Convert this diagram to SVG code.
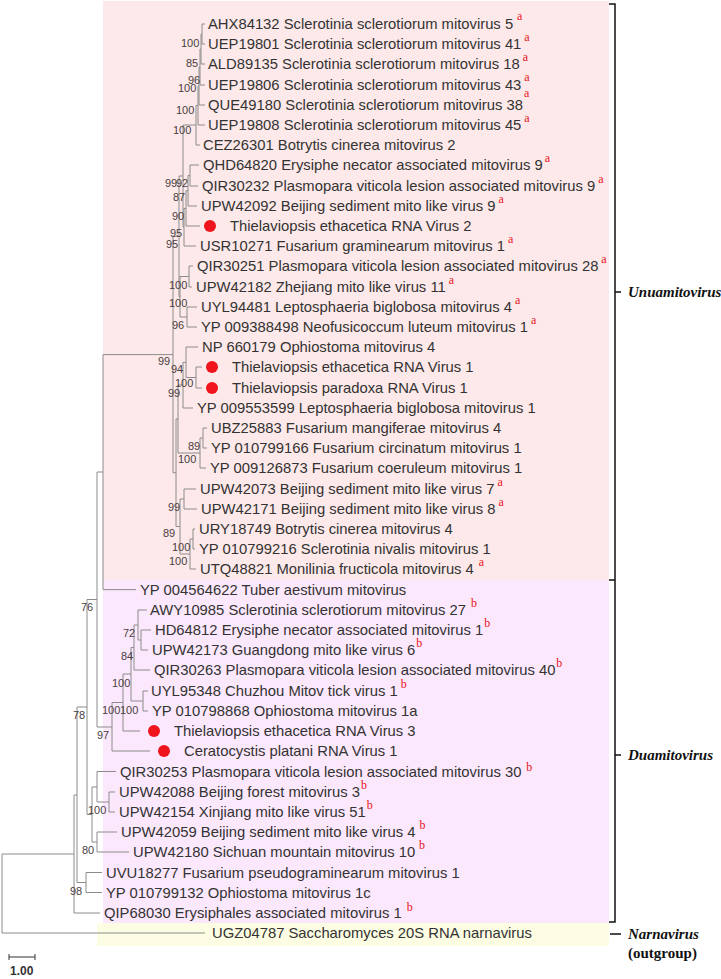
<svg xmlns="http://www.w3.org/2000/svg" width="721" height="979" viewBox="0 0 721 979">
<style>
.t{font-family:"Liberation Sans",Arial,sans-serif;font-size:14.8px;fill:#333}
.bs{font-family:"Liberation Sans",Arial,sans-serif;font-size:11px;fill:#4a4040}
.sup{font-family:"Liberation Serif","Times New Roman",serif;font-size:12px;fill:#e8141c}
.tree{fill:none;stroke:#8c8c8c;stroke-width:1}
.dot{fill:#f0141c}
.clade{font-family:"Liberation Serif","Times New Roman",serif;font-size:15px;font-weight:bold;font-style:italic;fill:#111}
.brk{fill:none;stroke:#111;stroke-width:1.5}
</style>
<rect width="721" height="979" fill="#fff"/>
<g id="bands">
<rect x="103" y="1" width="506" height="579" fill="#fde9e9"/>
<rect x="103" y="580" width="506" height="343" fill="#fce8fc"/>
<rect x="97" y="923" width="512" height="23" fill="#fdfde3"/>
</g>
<g id="connectors" class="tree">
<path d="M202,24V44M202,24H205M202,44H205M201,34V64M201,34H202M201,64H205M200,49V85M200,49H201M200,85H205M199,67V105M199,67H200M199,105H205M198,86V125M198,86H199M198,125H205M196,105.5V145M196,105.5H198M196,145H200"/>
<path d="M190,165V186M190,165H199M190,186H198M188,175.5V206M188,175.5H190M188,206H197M186,190.7V226M186,190.7H188M186,226H200M184,208.4V246M184,208.4H186M184,246H196"/>
<path d="M183,125V227M183,125H196M183,227H184"/>
<path d="M189,266V287M189,266H193M189,287H192M187,307V327M187,307H197M187,327H197M180,276.5V317M180,276.5H189M180,317H187"/>
<path d="M179,176V296.7M179,176H183M179,296.7H180"/>
<path d="M196,367V388M196,367H202M196,388H202M186,347V377.5M186,347H198M186,377.5H196M183,362.3V408M183,362.3H186M183,408H193"/>
<path d="M203,428V448M203,428H207M203,448H207M200,438V468M200,438H203M200,468H206M178,385V453M178,385H183M178,453H200"/>
<path d="M184,489V509M184,489H196M184,509H197M193,529V549M193,529H195M193,549H195M190,539V569M190,539H193M190,569H196M180,499V554M180,499H184M180,554H190M176,419V526.5M176,419H178M176,526.5H180"/>
<path d="M173,236.4V472.7M173,236.4H179M173,472.7H176"/>
<path d="M103,354.6V589.6M103,354.6H173M103,589.6H136"/>
<path d="M141,630V650M141,630H151M141,650H148M138,610V640M138,610H147M138,640H141M134,625V670M134,625H138M134,670H150M143,691V711M143,691H148M143,711H148M131,647.5V701M131,647.5H134M131,701H143M123,674V731M123,674H131M123,731H140M112,702.5V751M112,702.5H123M112,751H150"/>
<path d="M97,472V727M97,472H103M97,727H112"/>
<path d="M109,792V812M109,792H115M109,812H115M97,771.5V802M97,771.5H116M97,802H109M97,832V852M97,832H117M97,852H129M92,787V842M92,787H97M92,842H97"/>
<path d="M87,599.5V814.5M87,599.5H97M87,814.5H92"/>
<path d="M86,872.5V892.5M86,872.5H102M86,892.5H102M77,707V882.5M77,707H87M77,882.5H86"/>
<path d="M74,795V913M74,795H77M74,913H100M2,854V933M2,854H74M2,933H205"/>
</g>
<g id="bootstrap">
<text class="bs" x="181" y="47">100</text>
<text class="bs" x="186" y="67">85</text>
<text class="bs" x="188" y="84">96</text>
<text class="bs" x="178" y="92">100</text>
<text class="bs" x="176" y="114">100</text>
<text class="bs" x="173" y="134">100</text>
<text class="bs" x="165" y="187">99</text>
<text class="bs" x="176" y="187">92</text>
<text class="bs" x="173" y="201">87</text>
<text class="bs" x="172" y="220">90</text>
<text class="bs" x="170" y="237">95</text>
<text class="bs" x="166" y="248">95</text>
<text class="bs" x="169" y="289">100</text>
<text class="bs" x="169" y="307">100</text>
<text class="bs" x="172" y="329">96</text>
<text class="bs" x="158" y="365">99</text>
<text class="bs" x="171" y="373">94</text>
<text class="bs" x="175" y="387">100</text>
<text class="bs" x="168" y="397">99</text>
<text class="bs" x="188" y="450">89</text>
<text class="bs" x="178" y="463">100</text>
<text class="bs" x="168" y="511">99</text>
<text class="bs" x="163" y="537">89</text>
<text class="bs" x="172" y="551">100</text>
<text class="bs" x="169" y="565">100</text>
<text class="bs" x="81" y="611">76</text>
<text class="bs" x="123" y="637">72</text>
<text class="bs" x="121" y="660">84</text>
<text class="bs" x="112" y="687">100</text>
<text class="bs" x="102" y="714">100</text>
<text class="bs" x="120" y="714">100</text>
<text class="bs" x="73" y="719">78</text>
<text class="bs" x="97" y="739">97</text>
<text class="bs" x="88" y="814">100</text>
<text class="bs" x="82" y="854">80</text>
<text class="bs" x="70" y="895">98</text>
</g>
<g id="n0"><text class="t" x="208" y="29">AHX84132 Sclerotinia sclerotiorum mitovirus 5<tspan class="sup" dx="4" dy="-9">a</tspan></text></g>
<g id="n1"><text class="t" x="208" y="49">UEP19801 Sclerotinia sclerotiorum mitovirus 41<tspan class="sup" dx="3" dy="-8">a</tspan></text></g>
<g id="n2"><text class="t" x="208" y="69">ALD89135 Sclerotinia sclerotiorum mitovirus 18<tspan class="sup" dx="3" dy="-8">a</tspan></text></g>
<g id="n3"><text class="t" x="208" y="90">UEP19806 Sclerotinia sclerotiorum mitovirus 43<tspan class="sup" dx="3" dy="-9">a</tspan></text></g>
<g id="n4"><text class="t" x="208" y="110">QUE49180 Sclerotinia sclerotiorum mitovirus 38<tspan class="sup" dx="1" dy="-13">a</tspan></text></g>
<g id="n5"><text class="t" x="208" y="130">UEP19808 Sclerotinia sclerotiorum mitovirus 45<tspan class="sup" dx="3" dy="-8">a</tspan></text></g>
<g id="n6"><text class="t" x="203" y="150">CEZ26301 Botrytis cinerea mitovirus 2</text></g>
<g id="n7"><text class="t" x="203" y="170">QHD64820 Erysiphe necator associated mitovirus 9<tspan class="sup" dx="2" dy="-8">a</tspan></text></g>
<g id="n8"><text class="t" x="202" y="191">QIR30232 Plasmopara viticola lesion associated mitovirus 9<tspan class="sup" dx="3" dy="-8">a</tspan></text></g>
<g id="n9"><text class="t" x="201" y="211">UPW42092 Beijing sediment mito like virus 9<tspan class="sup" dx="3" dy="-8">a</tspan></text></g>
<g id="n10"><circle class="dot" cx="210" cy="226" r="6"/><text class="t" x="230" y="231">Thielaviopsis ethacetica RNA Virus 2</text></g>
<g id="n11"><text class="t" x="200" y="251">USR10271 Fusarium graminearum mitovirus 1<tspan class="sup" dx="3" dy="-8">a</tspan></text></g>
<g id="n12"><text class="t" x="197" y="271">QIR30251 Plasmopara viticola lesion associated mitovirus 28<tspan class="sup" dx="3" dy="-8">a</tspan></text></g>
<g id="n13"><text class="t" x="196" y="292">UPW42182 Zhejiang mito like virus 11<tspan class="sup" dx="3" dy="-8">a</tspan></text></g>
<g id="n14"><text class="t" x="201" y="312">UYL94481 Leptosphaeria biglobosa mitovirus 4<tspan class="sup" dx="3" dy="-8">a</tspan></text></g>
<g id="n15"><text class="t" x="201" y="332">YP 009388498 Neofusicoccum luteum mitovirus 1<tspan class="sup" dx="3" dy="-8">a</tspan></text></g>
<g id="n16"><text class="t" x="202" y="352">NP 660179 Ophiostoma mitovirus 4</text></g>
<g id="n17"><circle class="dot" cx="212" cy="367" r="6"/><text class="t" x="232" y="372">Thielaviopsis ethacetica RNA Virus 1</text></g>
<g id="n18"><circle class="dot" cx="212" cy="388" r="6"/><text class="t" x="232" y="393">Thielaviopsis paradoxa RNA Virus 1</text></g>
<g id="n19"><text class="t" x="197" y="413">YP 009553599 Leptosphaeria biglobosa mitovirus 1</text></g>
<g id="n20"><text class="t" x="211" y="433">UBZ25883 Fusarium mangiferae mitovirus 4</text></g>
<g id="n21"><text class="t" x="211" y="453">YP 010799166 Fusarium circinatum mitovirus 1</text></g>
<g id="n22"><text class="t" x="210" y="473">YP 009126873 Fusarium coeruleum mitovirus 1</text></g>
<g id="n23"><text class="t" x="200" y="494">UPW42073 Beijing sediment mito like virus 7<tspan class="sup" dx="3" dy="-8">a</tspan></text></g>
<g id="n24"><text class="t" x="201" y="514">UPW42171 Beijing sediment mito like virus 8<tspan class="sup" dx="3" dy="-8">a</tspan></text></g>
<g id="n25"><text class="t" x="199" y="534">URY18749 Botrytis cinerea mitovirus 4</text></g>
<g id="n26"><text class="t" x="199" y="554">YP 010799216 Sclerotinia nivalis mitovirus 1</text></g>
<g id="n27"><text class="t" x="200" y="574">UTQ48821 Monilinia fructicola mitovirus 4<tspan class="sup" dx="5" dy="-8">a</tspan></text></g>
<g id="n28"><text class="t" x="140" y="595">YP 004564622 Tuber aestivum mitovirus</text></g>
<g id="n29"><text class="t" x="150" y="615">AWY10985 Sclerotinia sclerotiorum mitovirus 27<tspan class="sup" dx="5" dy="-8">b</tspan></text></g>
<g id="n30"><text class="t" x="155" y="635">HD64812 Erysiphe necator associated mitovirus 1<tspan class="sup" dx="1" dy="-8">b</tspan></text></g>
<g id="n31"><text class="t" x="152" y="655">UPW42173 Guangdong mito like virus 6<tspan class="sup" dx="1" dy="-8">b</tspan></text></g>
<g id="n32"><text class="t" x="154" y="675">QIR30263 Plasmopara viticola lesion associated mitovirus 40<tspan class="sup" dx="1" dy="-8">b</tspan></text></g>
<g id="n33"><text class="t" x="151" y="696">UYL95348 Chuzhou Mitov tick virus 1<tspan class="sup" dx="3" dy="-8">b</tspan></text></g>
<g id="n34"><text class="t" x="152" y="716">YP 010798868 Ophiostoma mitovirus 1a</text></g>
<g id="n35"><circle class="dot" cx="154" cy="731" r="6"/><text class="t" x="174" y="736">Thielaviopsis ethacetica RNA Virus 3</text></g>
<g id="n36"><circle class="dot" cx="164" cy="751" r="6"/><text class="t" x="184" y="756">Ceratocystis platani RNA Virus 1</text></g>
<g id="n37"><text class="t" x="120" y="777">QIR30253 Plasmopara viticola lesion associated mitovirus 30<tspan class="sup" dx="5" dy="-6">b</tspan></text></g>
<g id="n38"><text class="t" x="119" y="797">UPW42088 Beijing forest mitovirus 3<tspan class="sup" dx="1" dy="-8">b</tspan></text></g>
<g id="n39"><text class="t" x="119" y="817">UPW42154 Xinjiang mito like virus 51<tspan class="sup" dx="1" dy="-8">b</tspan></text></g>
<g id="n40"><text class="t" x="121" y="837">UPW42059 Beijing sediment mito like virus 4<tspan class="sup" dx="4" dy="-8">b</tspan></text></g>
<g id="n41"><text class="t" x="133" y="857">UPW42180 Sichuan mountain mitovirus 10<tspan class="sup" dx="4" dy="-8">b</tspan></text></g>
<g id="n42"><text class="t" x="106" y="878">UVU18277 Fusarium pseudograminearum mitovirus 1</text></g>
<g id="n43"><text class="t" x="106" y="898">YP 010799132 Ophiostoma mitovirus 1c</text></g>
<g id="n44"><text class="t" x="104" y="918">QIP68030 Erysiphales associated mitovirus 1<tspan class="sup" dx="5" dy="-7">b</tspan></text></g>
<g id="n45"><text class="t" x="212" y="938">UGZ04787 Saccharomyces 20S RNA narnavirus</text></g>
<g id="clades">
<path class="brk" d="M609,4H615V580H609M615,580V922H609M615,292H621M615,755H621M610,934H621"/>
<text class="clade" x="628" y="297">Unuamitovirus</text>
<text class="clade" x="628" y="760">Duamitovirus</text>
<text class="clade" x="628" y="939">Narnavirus</text>
<text class="clade" x="628" y="958" style="font-style:normal">(outgroup)</text>
</g>
<g id="scale">
<path d="M9,957H35M9,954V960M35,954V960" fill="none" stroke="#333" stroke-width="1"/>
<text x="10" y="975" style="font-family:'Liberation Sans',Arial,sans-serif;font-size:12px;font-weight:bold;fill:#333">1.00</text>
</g>
</svg>
